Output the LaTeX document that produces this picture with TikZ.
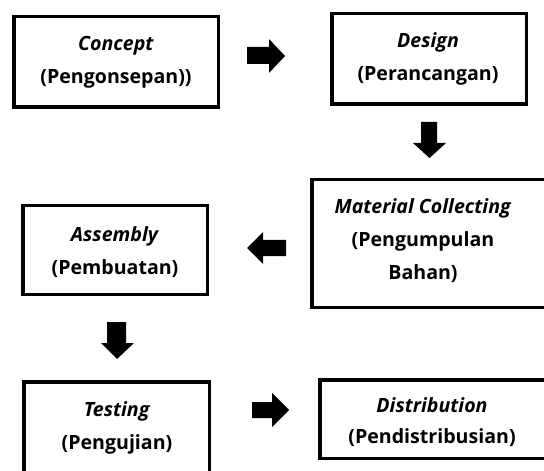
\documentclass[tikz,border=0pt]{standalone}
\usepackage{fontspec}
\setmainfont{Open Sans}
\begin{document}
\begin{tikzpicture}[x=1bp,y=-1bp,
  box/.style={draw=black,line width=3.5bp,inner sep=0pt,fill=white},
  txt/.style={align=center,font=\fontsize{19.6bp}{33bp}\selectfont\bfseries,inner sep=0pt},
  blk/.style={fill=black,draw=none}]
\useasboundingbox (0,0) rectangle (544,471);
\clip (0,0) rectangle (544,471);
% boxes (outer edges given, centre line inset by half the line width)
\draw[box] (13.75,16.75) rectangle (218.25,107.25);
\node[inner sep=0pt] (concept) at (116,62) {};
\draw[box] (331.75,13.75) rectangle (526.25,104.25);
\node[inner sep=0pt] (design) at (428,59) {};
\draw[box] (311.75,179.75) rectangle (560,307.25);
\node[inner sep=0pt] (material) at (423,241) {};
\draw[box] (22.75,205.75) rectangle (207.25,294.25);
\node[inner sep=0pt] (assembly) at (115,252) {};
\draw[box] (23.75,381.75) rectangle (209.25,490);
\node[inner sep=0pt] (testing) at (117,428) {};
\draw[box] (319.75,379.75) rectangle (560,458.25);
\node[inner sep=0pt] (distribution) at (432,422) {};
% texts
\node[txt] (tconcept) at (concept) {\textit{Concept}\\(Pengonsepan))};
\node[txt] (tdesign) at (design) {\textit{Design}\\(Perancangan)};
\node[txt] (tmaterial) at (material) {\textit{Material Collecting}\\(Pengumpulan\\Bahan)};
\node[txt] (tassembly) at (assembly) {\textit{Assembly}\\(Pembuatan)};
\node[txt] (ttesting) at (testing) {\textit{Testing}\\(Pengujian)};
\node[txt,font=\fontsize{19.6bp}{31bp}\selectfont\bfseries] (tdistribution) at (distribution) {\textit{Distribution}\\(Pendistribusian)};
% block arrows
\fill[blk] (247,47) -- (269,47) -- (269,39) -- (285,56) -- (269,73) -- (269,64) -- (247,64) -- cycle;
\fill[blk] (421,122) -- (437,122) -- (437,143) -- (446,143) -- (429.5,158) -- (413,143) -- (421,143) -- cycle;
\fill[blk] (286,240) -- (263,240) -- (263,232) -- (247,248) -- (263,264) -- (263,256) -- (286,256) -- cycle;
\fill[blk] (107,322) -- (126,322) -- (126,343) -- (134,343) -- (117,359) -- (101,343) -- (107,343) -- cycle;
\fill[blk] (252,402) -- (272,402) -- (272,393) -- (289,410) -- (272,427) -- (272,418) -- (252,418) -- cycle;
\end{tikzpicture}
\end{document}
